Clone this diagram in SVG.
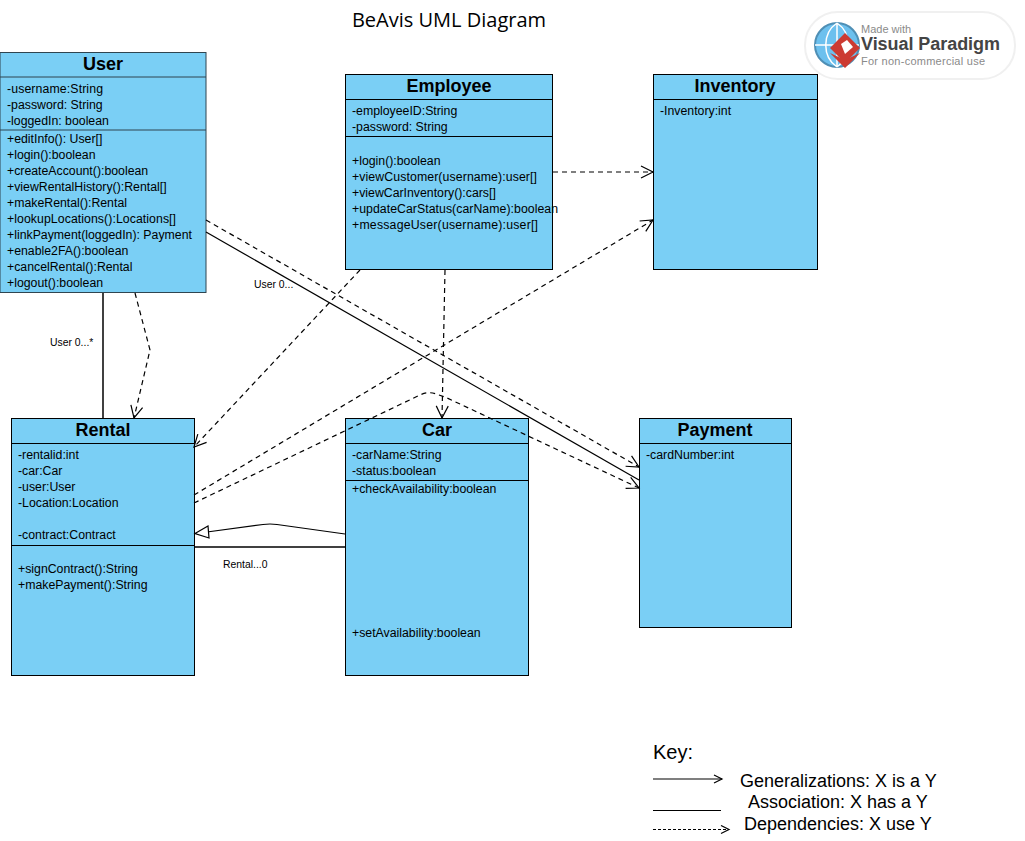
<svg xmlns="http://www.w3.org/2000/svg" width="1025" height="841" viewBox="0 0 1025 841">
<style>
text{font-family:"Liberation Sans",Arial,sans-serif;fill:#000}
.box{fill:#7acff5;stroke:#000;stroke-width:1}
.user{stroke:#2f4550}
.sep{stroke:#000;stroke-width:1;fill:none}
.usep{stroke:#2f4550;stroke-width:1;fill:none}
.name{font-size:18px;font-weight:bold;text-anchor:middle}
.m{font-size:12.3px}
.lab{font-size:10.4px}
.key{font-size:18px}
.c{fill:none;stroke:#000;stroke-width:1.2}
.d{stroke-dasharray:5 4}
.open{fill:none;stroke:#000;stroke-width:1.2}
.logo1{font-size:11px;fill:#8a8a8a}
.logo2{font-size:18px;font-weight:bold;fill:#444}
</style>
<defs>
<marker id="open" markerUnits="userSpaceOnUse" markerWidth="16" markerHeight="14" refX="13" refY="7" orient="auto"><path d="M1,1 L13,7 L1,13" class="open"/></marker>
<marker id="small" markerUnits="userSpaceOnUse" markerWidth="12" markerHeight="10" refX="9" refY="5" orient="auto"><path d="M1,1 L9,5 L1,9" class="open"/></marker>
</defs>
<rect width="1025" height="841" fill="#fff"/>
<text x="449" y="27" font-size="20" text-anchor="middle" style="font-family:'Open Sans',sans-serif">BeAvis UML Diagram</text>

<g id="logo">
<rect x="805" y="12" width="210" height="67" rx="33" fill="#fff" stroke="#f0f0f0" stroke-width="2"/>
<circle cx="837" cy="45" r="22" fill="#6cc0ee" stroke="#4f8fb5" stroke-width="2"/>
<path d="M837,23 V67 M815,45 H859 M837,23 C822,33 822,57 837,67 M837,23 C852,33 852,57 837,67" fill="none" stroke="#fff" stroke-width="1.500"/>
<path d="M830,53 L845,68 L860,53 L845,60 Z" fill="#cc3a32"/>
<path d="M845,33 L860,48 L845,63 L830,48 Z" fill="#cc3a32"/>
<path d="M841,44 L847,40 L853,47 L845,54 Z" fill="#fff"/>
<text x="861" y="33" class="logo1">Made with</text>
<text x="861" y="50" class="logo2" textLength="139">Visual Paradigm</text>
<text x="861" y="65" class="logo1" textLength="124">For non-commercial use</text>
</g>

<g id="node-user">
<rect class="box user" x="0" y="52.500" width="206" height="240"/>
<path class="usep" d="M0,77 H206 M0,130 H206"/>
<text class="name" x="103" y="70">User</text>
<text class="m" x="7" y="93" textLength="96">-username:String</text>
<text class="m" x="7" y="109">-password: String</text>
<text class="m" x="7" y="125">-loggedIn: boolean</text>
<text class="m" x="7" y="143">+editInfo(): User[]</text>
<text class="m" x="7" y="159">+login():boolean</text>
<text class="m" x="7" y="175">+createAccount():boolean</text>
<text class="m" x="7" y="191">+viewRentalHistory():Rental[]</text>
<text class="m" x="7" y="207">+makeRental():Rental</text>
<text class="m" x="7" y="223" textLength="169">+lookupLocations():Locations[]</text>
<text class="m" x="7" y="239">+linkPayment(loggedIn): Payment</text>
<text class="m" x="7" y="255">+enable2FA():boolean</text>
<text class="m" x="7" y="271">+cancelRental():Rental</text>
<text class="m" x="7" y="287">+logout():boolean</text>
</g>

<g id="node-employee">
<rect class="box" x="345.500" y="74.500" width="207" height="195"/>
<path class="sep" d="M345.500,99.500 H552.500 M345.500,136.500 H552.500"/>
<text class="name" x="449" y="92">Employee</text>
<text class="m" x="352" y="115">-employeeID:String</text>
<text class="m" x="352" y="131">-password: String</text>
<text class="m" x="352" y="165">+login():boolean</text>
<text class="m" x="352" y="181" textLength="185">+viewCustomer(username):user[]</text>
<text class="m" x="352" y="197">+viewCarInventory():cars[]</text>
<text class="m" x="352" y="213" textLength="206">+updateCarStatus(carName):boolean</text>
<text class="m" x="352" y="229" textLength="186">+messageUser(username):user[]</text>
</g>

<g id="node-inventory">
<rect class="box" x="653.500" y="74.500" width="164" height="195"/>
<path class="sep" d="M653.500,99.500 H817.500"/>
<text class="name" x="735" y="92">Inventory</text>
<text class="m" x="660" y="115">-Inventory:int</text>
</g>

<g id="node-rental">
<rect class="box" x="11.500" y="418.500" width="183" height="257"/>
<path class="sep" d="M11.500,443.500 H194.500 M11.500,545.500 H194.500"/>
<text class="name" x="103" y="436">Rental</text>
<text class="m" x="18" y="459">-rentalid:int</text>
<text class="m" x="18" y="475">-car:Car</text>
<text class="m" x="18" y="491">-user:User</text>
<text class="m" x="18" y="507">-Location:Location</text>
<text class="m" x="18" y="539">-contract:Contract</text>
<text class="m" x="18" y="573">+signContract():String</text>
<text class="m" x="18" y="589">+makePayment():String</text>
</g>

<g id="node-car">
<rect class="box" x="345.500" y="418.500" width="183" height="257"/>
<path class="sep" d="M345.500,443.500 H528.500 M345.500,480.500 H528.500"/>
<text class="name" x="437" y="436">Car</text>
<text class="m" x="352" y="459">-carName:String</text>
<text class="m" x="352" y="475">-status:boolean</text>
<text class="m" x="352" y="493">+checkAvailability:boolean</text>
<text class="m" x="352" y="637">+setAvailability:boolean</text>
</g>

<g id="node-payment">
<rect class="box" x="639.500" y="418.500" width="152" height="209"/>
<path class="sep" d="M639.500,443.500 H791.500"/>
<text class="name" x="715" y="436">Payment</text>
<text class="m" x="646" y="459">-cardNumber:int</text>
</g>

<g id="connectors">
<path class="c" style="stroke-width:1.500" d="M103,293 V418"/>
<path class="c" style="stroke-width:1.500" d="M194,547 H345"/>
<path class="c" d="M206,232 L639,480"/>
<path class="c" d="M345,534 L277,524.500 Q270,523.500 263,524.500 L207,532"/>
<path d="M195,533.500 L208,526 L209,538 Z" fill="#fff" stroke="#000" stroke-width="1.200"/>
<path class="c d" marker-end="url(#open)" d="M135,293 L150,350 L134,418"/>
<path class="c d" marker-end="url(#open)" d="M360,270 L194,447"/>
<path class="c d" marker-end="url(#open)" d="M445,270 L442,418"/>
<path class="c d" marker-end="url(#open)" d="M553,172 H653"/>
<path class="c d" marker-end="url(#open)" d="M194,495 L653,220"/>
<path class="c d" marker-end="url(#open)" d="M194,503 L420,395 Q428,391 436,394 L445,397 L639,488"/>
<path class="c d" marker-end="url(#open)" d="M206,220 L639,467"/>
</g>

<g id="labels">
<text class="lab" x="50" y="346">User 0...*</text>
<text class="lab" x="254" y="288">User 0...</text>
<text class="lab" x="223" y="568">Rental...0</text>
</g>

<g id="key">
<text x="653" y="759" font-size="20">Key:</text>
<path class="c" marker-end="url(#small)" d="M653,779 H722"/>
<path class="c" d="M653,810.500 H721"/>
<path class="c" style="stroke-dasharray:3 2" marker-end="url(#small)" d="M653,829.500 H729"/>
<text class="key" x="740" y="787">Generalizations: X is a Y</text>
<text class="key" x="748" y="808">Association: X has a Y</text>
<text class="key" x="744" y="830">Dependencies: X use Y</text>
</g>
</svg>
